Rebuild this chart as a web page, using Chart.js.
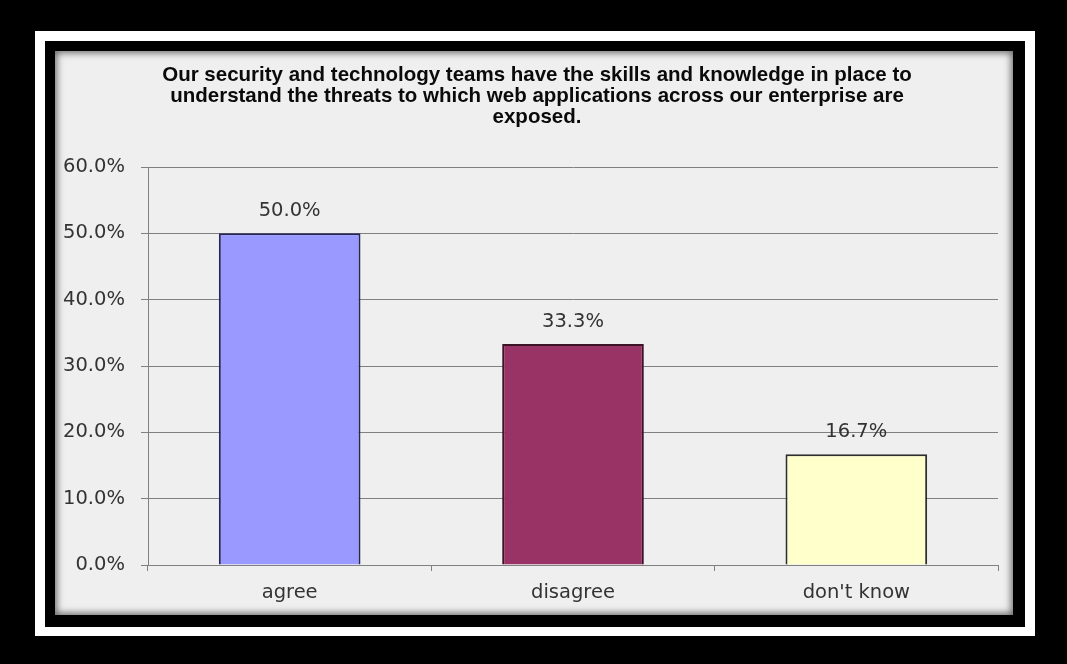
<!DOCTYPE html>
<html>
<head>
<meta charset="utf-8">
<script src="https://cdn.jsdelivr.net/npm/chart.js@4/dist/chart.umd.min.js"></script>
<style>
    html, body { margin: 0; padding: 0; background: #000; }
    body { width: 1067px; height: 664px; position: relative; overflow: hidden; }
    .frame-white { position: absolute; left: 35px; top: 31px; width: 1000px; height: 605px; background: #fff; }
    .frame-black { position: absolute; left: 45px; top: 41px; width: 980px; height: 586px; background: #000; }
    .panel { position: absolute; left: 55px; top: 51px; width: 958px; height: 564px; background: #efefef;
             box-shadow: inset 0 0 7px 2px rgba(0, 0, 0, 0.55); }
    .panel canvas { position: absolute; left: 0; top: 0; }
</style>
</head>
<body>
<div class="frame-white"></div>
<div class="frame-black"></div>
<div class="panel"><canvas id="chart"></canvas></div>
<script>
const titleLines = [
    'Our security and technology teams have the skills and knowledge in place to',
    'understand the threats to which web applications across our enterprise are',
    'exposed.'
];
const categories = ['agree', 'disagree', "don't know"];
const shares = [50.0, 33.3, 16.7];
const barColors = ['#9999ff', '#993366', '#ffffcc'];
const barBorders = ['#26265a', '#3d1326', '#2e2e2e'];
const yTicks = [0, 10, 20, 30, 40, 50, 60];

const tickFont = { family: "'DejaVu Sans', Verdana, sans-serif", size: 19.5 };

// three-line heading, centred on the whole panel rather than the plot
const heading = {
    id: 'heading',
    afterDraw(chart) {
        const ctx = chart.ctx;
        ctx.save();
        ctx.font = "bold 20.5px 'Liberation Sans', Arial, sans-serif";
        ctx.fillStyle = '#0a0a0a';
        ctx.textAlign = 'center';
        ctx.textBaseline = 'middle';
        titleLines.forEach((line, i) => ctx.fillText(line, 482, 24 + i * 21));
        ctx.restore();
    }
};

// value labels above each bar
const valueLabels = {
    id: 'valueLabels',
    afterDatasetsDraw(chart) {
        const ctx = chart.ctx;
        const meta = chart.getDatasetMeta(0);
        ctx.save();
        ctx.font = `${tickFont.size}px ${tickFont.family}`;
        ctx.fillStyle = '#333';
        ctx.textAlign = 'center';
        ctx.textBaseline = 'middle';
        meta.data.forEach((bar, i) => {
            ctx.fillText(shares[i].toFixed(1) + '%', bar.x, bar.y - 22);
        });
        ctx.restore();
    }
};

new Chart(document.getElementById('chart'), {
    type: 'bar',
    data: {
        labels: categories,
        datasets: [{
            data: shares,
            backgroundColor: barColors,
            borderColor: barBorders,
            borderWidth: 2,
            categoryPercentage: 1,
            barPercentage: 0.5
        }]
    },
    options: {
        responsive: true,
        maintainAspectRatio: false,
        animation: false,
        layout: { padding: { left: 0, right: 15, top: 116, bottom: 0 } },
        plugins: {
            legend: { display: false },
            tooltip: { enabled: false },
            title: { display: false }
        },
        scales: {
            x: {
                grid: { drawOnChartArea: false, drawTicks: true, tickLength: 6, color: '#808080' },
                border: { color: '#808080', width: 1 },
                ticks: { color: '#333', font: tickFont, padding: 10 },
                afterFit: s => { s.height = 50; }
            },
            y: {
                min: 0,
                max: 60,
                afterBuildTicks: s => { s.ticks = yTicks.map(v => ({ value: v })); },
                grid: { color: '#808080', tickLength: 7 },
                border: { color: '#808080', width: 1 },
                ticks: { color: '#333', font: tickFont, padding: 16, callback: v => v.toFixed(1) + '%' },
                afterFit: s => { s.width = 93; }
            }
        }
    },
    plugins: [valueLabels, heading]
});
</script>
</body>
</html>
